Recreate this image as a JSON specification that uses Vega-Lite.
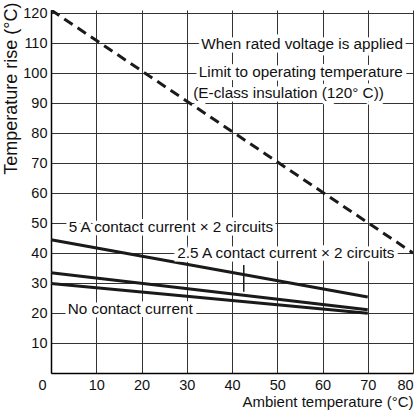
{
  "$schema": "https://vega.github.io/schema/vega-lite/v6.json",
  "width": 362,
  "height": 363,
  "autosize": {"type": "none"},
  "padding": {"left": 51, "top": 10, "right": 1, "bottom": 41},
  "background": "white",
  "config": {
    "view": {"stroke": null},
    "font": "Liberation Sans",
    "axis": {
      "labelFont": "Liberation Sans",
      "titleFont": "Liberation Sans",
      "labelColor": "#111",
      "titleColor": "#111",
      "labelFontSize": 14.5,
      "titleFontSize": 15,
      "titleFontWeight": "normal",
      "grid": true,
      "gridColor": "#333",
      "gridWidth": 1,
      "gridOpacity": 1,
      "tickSize": 0,
      "labelOverlap": false,
      "domainColor": "#000",
      "domainWidth": 1.5
    }
  },
  "datasets": {
    "lines": [
      {"series": "5 A", "x": 0, "y": 44.4},
      {"series": "5 A", "x": 70, "y": 25.3},
      {"series": "2.5 A", "x": 0, "y": 33.4},
      {"series": "2.5 A", "x": 70, "y": 21.1},
      {"series": "None", "x": 0, "y": 29.8},
      {"series": "None", "x": 70, "y": 19.9}
    ],
    "limit": [
      {"x": 0, "y": 121},
      {"x": 80, "y": 40}
    ],
    "labels": [
      {"text": "When rated voltage is applied", "x": 55.5, "y": 109.7},
      {"text": "Limit to operating temperature", "x": 55.2, "y": 100.2},
      {"text": "(E-class insulation (120° C))", "x": 52.5, "y": 93.4},
      {"text": "5 A contact current × 2 circuits", "x": 26.5, "y": 48.8},
      {"text": "2.5 A contact current × 2 circuits", "x": 51.9, "y": 39.9},
      {"text": "No contact current", "x": 17.5, "y": 21.2}
    ],
    "leader": [
      {"x": 42.6, "y": 36.0, "y2": 27.1}
    ]
  },
  "encoding": {
    "x": {
      "field": "x", "type": "quantitative",
      "scale": {"domain": [0, 80], "nice": false, "zero": false},
      "axis": {
        "values": [0, 10, 20, 30, 40, 50, 60, 70, 80],
        "title": "Ambient temperature (°C)",
        "titleAnchor": "end",
        "titlePadding": 3,
        "labelPadding": 5,
        "labelFlush": false,
        "labelOverlap": false,
        "labelOffset": {"condition": [{"test": "datum.value === 0", "value": -9}, {"test": "datum.value === 80", "value": -8}], "value": 0},
        "grid": true
      }
    },
    "y": {
      "field": "y", "type": "quantitative",
      "scale": {"domain": [0, 121], "nice": false, "zero": false},
      "axis": {
        "tickCount": 12,
        "values": [10, 20, 30, 40, 50, 60, 70, 80, 90, 100, 110, 120],
        "title": "Temperature rise (°C)",
        "titleFontSize": 18,
        "titleAlign": "right",
        "titleAngle": -90,
        "titleBaseline": "middle",
        "titleX": -40,
        "titleY": -8,
        "labelPadding": 4,
        "labelFlush": false,
        "labelOverlap": false,
        "grid": true
      }
    }
  },
  "layer": [
    {
      "data": {"name": "lines"},
      "mark": {"type": "line", "color": "#1a1a1a", "strokeWidth": 3},
      "encoding": {
        "detail": {"field": "series"}
      }
    },
    {
      "data": {"name": "limit"},
      "mark": {"type": "line", "color": "#1a1a1a", "strokeWidth": 3, "strokeDash": [10, 6], "clip": true},
      "encoding": {}
    },
    {
      "data": {"name": "leader"},
      "mark": {"type": "rule", "color": "#1a1a1a", "strokeWidth": 1.5},
      "encoding": {
        "y2": {"field": "y2"}
      }
    },
    {
      "data": {"name": "labels"},
      "mark": {"type": "text", "fontSize": 15.3, "font": "Liberation Sans", "stroke": "white", "strokeWidth": 7, "fill": "white", "baseline": "middle", "align": "center"},
      "encoding": {
        "text": {"field": "text"}
      }
    },
    {
      "data": {"name": "labels"},
      "mark": {"type": "text", "fontSize": 15.3, "font": "Liberation Sans", "fill": "#111", "baseline": "middle", "align": "center"},
      "encoding": {
        "text": {"field": "text"}
      }
    }
  ]
}
